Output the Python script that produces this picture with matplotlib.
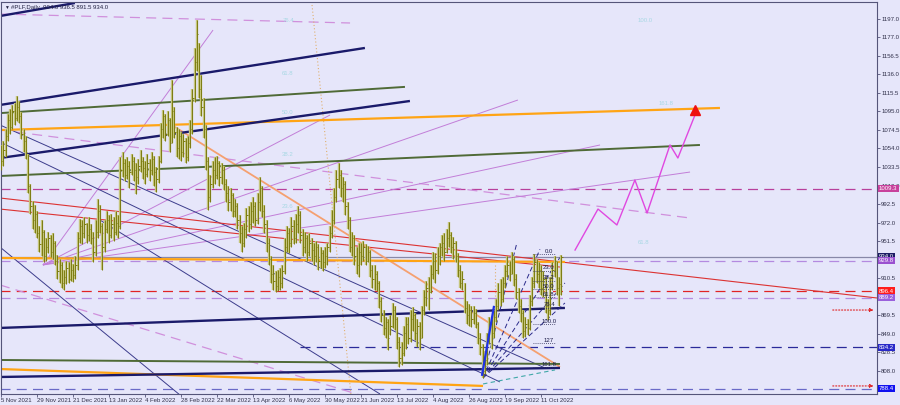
import matplotlib
matplotlib.use("Agg")
import matplotlib.pyplot as plt
import numpy as np

plt.rcParams['font.family'] = ['Liberation Sans', 'DejaVu Sans']

# daily bars (index 0 = 5 Nov 2021)
highs = [1058, 1062, 1075, 1092, 1098, 1102, 1104, 1112, 1106, 1094,
         1075, 1068, 1048, 1015, 996, 992, 985, 968, 975, 964,
         955, 962, 958, 960, 952, 936, 932, 928, 920, 930,
         928, 932, 926, 935, 962, 976, 975, 978, 972, 978,
         970, 962, 975, 998, 992, 972, 975, 985, 980, 982,
         978, 985, 980, 1045, 1050, 1042, 1045, 1040, 1048, 1044,
         1038, 1042, 1052, 1045, 1040, 1048, 1042, 1050, 1046, 1034,
         1046, 1082, 1096, 1092, 1095, 1088, 1130, 1100, 1078, 1075,
         1072, 1070, 1066, 1068, 1085, 1120, 1165, 1196, 1170, 1135,
         1110, 1080, 1045, 1025, 1040, 1045, 1046, 1040, 1038, 1035,
         1020, 1012, 1010, 1005, 998, 994, 980, 968, 972, 988,
         990, 995, 1000, 995, 1005, 1022, 1012, 992, 975, 955,
         935, 925, 918, 920, 922, 925, 955, 968, 966, 978,
         975, 982, 990, 985, 965, 962, 958, 960, 955, 950,
         952, 948, 945, 942, 945, 950, 968, 986, 1010, 1030,
         1038, 1030, 1022, 1018, 995, 978, 962, 958, 945, 950,
         950, 952, 948, 946, 942, 925, 925, 918, 908, 890,
         875, 868, 866, 870, 883, 880, 868, 846, 840, 858,
         868, 868, 875, 879, 872, 866, 862, 880, 898, 908,
         912, 925, 940, 938, 945, 950, 958, 960, 965, 973,
         962, 956, 952, 938, 925, 918, 905, 885, 882, 880,
         880, 876, 862, 850, 838, 830, 850, 868, 866, 875,
         888, 905, 910, 912, 925, 935, 930, 940, 935, 915,
         900, 888, 875, 868, 866, 892, 912, 937, 932, 928,
         925, 918, 912, 888, 912, 928, 935, 930, 912, 936.5]
lows = [1030, 1035, 1045, 1062, 1070, 1075, 1080, 1084, 1082, 1064,
        1050, 1042, 1005, 982, 965, 960, 955, 940, 935, 928,
        930, 938, 934, 932, 925, 910, 905, 900, 897, 904,
        905, 908, 906, 910, 920, 950, 948, 955, 950, 952,
        948, 928, 935, 955, 960, 920, 940, 960, 950, 955,
        952, 958, 955, 965, 1022, 1018, 1020, 1010, 1025, 1018,
        1004, 1015, 1028, 1020, 1015, 1022, 1018, 1025, 1012, 1006,
        1016, 1038, 1065, 1062, 1068, 1050, 1060, 1065, 1045, 1042,
        1040, 1045, 1038, 1040, 1055, 1070, 1105, 1140, 1110, 1090,
        1065, 1030, 986, 995, 1010, 1015, 1020, 1012, 1015, 1008,
        995, 985, 985, 978, 978, 965, 950, 940, 945, 955,
        962, 965, 972, 968, 970, 985, 978, 960, 940, 925,
        905, 898, 895, 896, 898, 900, 915, 940, 938, 945,
        948, 950, 960, 950, 935, 938, 930, 935, 930, 925,
        928, 920, 922, 918, 922, 925, 940, 955, 970, 995,
        1010, 1000, 995, 980, 965, 940, 935, 925, 915, 912,
        925, 930, 925, 928, 912, 900, 898, 896, 878, 862,
        848, 845, 831, 848, 855, 853, 832, 812, 815, 825,
        832, 838, 840, 852, 842, 835, 831, 845, 870, 880,
        875, 894, 910, 905, 915, 925, 935, 930, 938, 945,
        938, 932, 928, 912, 900, 898, 872, 860, 858, 857,
        860, 855, 838, 826, 800, 805, 815, 838, 832, 845,
        862, 875, 880, 884, 900, 912, 908, 915, 902, 888,
        872, 862, 844, 846, 848, 853, 880, 900, 905, 900,
        892, 890, 872, 864, 870, 898, 912, 892, 880, 891.5]
closes = [1040, 1052, 1068, 1085, 1078, 1095, 1088, 1100, 1090, 1070,
          1062, 1050, 1012, 990, 975, 982, 960, 948, 962, 935,
          945, 955, 940, 950, 930, 918, 925, 905, 912, 922,
          910, 920, 914, 925, 955, 968, 960, 970, 958, 965,
          955, 940, 962, 985, 968, 945, 965, 975, 958, 970,
          962, 972, 968, 1030, 1038, 1025, 1035, 1028, 1040, 1030,
          1022, 1035, 1040, 1032, 1026, 1038, 1030, 1042, 1028, 1020,
          1040, 1075, 1090, 1070, 1085, 1060, 1095, 1072, 1055, 1068,
          1050, 1062, 1045, 1060, 1075, 1110, 1150, 1180, 1120, 1100,
          1075, 1040, 1000, 1015, 1030, 1025, 1038, 1022, 1030, 1015,
          1005, 995, 1002, 985, 990, 975, 960, 950, 965, 980,
          970, 985, 990, 975, 995, 1010, 985, 970, 950, 932,
          915, 908, 902, 912, 905, 918, 945, 960, 950, 968,
          955, 970, 980, 958, 945, 955, 940, 950, 942, 935,
          945, 930, 938, 928, 935, 945, 960, 975, 1000, 1020,
          1025, 1010, 1015, 990, 975, 945, 955, 935, 925, 940,
          935, 945, 930, 940, 920, 910, 915, 905, 885, 870,
          855, 862, 845, 858, 875, 865, 840, 822, 828, 850,
          860, 845, 865, 870, 850, 858, 845, 875, 890, 900,
          895, 915, 930, 920, 935, 945, 950, 940, 955, 958,
          945, 950, 935, 920, 905, 910, 878, 870, 875, 865,
          872, 860, 845, 835, 808, 820, 845, 860, 850, 868,
          880, 895, 888, 905, 918, 925, 915, 932, 910, 895,
          880, 872, 852, 860, 855, 885, 905, 928, 915, 920,
          900, 910, 880, 875, 905, 920, 930, 900, 904, 934]

date_ticks = [0, 16, 32, 48, 64, 80, 96, 112, 128, 144, 160, 176, 192, 208, 224, 240]
date_labels = ['5 Nov 2021', '29 Nov 2021', '21 Dec 2021', '13 Jan 2022', '4 Feb 2022',
               '28 Feb 2022', '22 Mar 2022', '13 Apr 2022', '6 May 2022', '30 May 2022',
               '21 Jun 2022', '13 Jul 2022', '4 Aug 2022', '26 Aug 2022', '19 Sep 2022',
               '11 Oct 2022']
price_ticks = [1197.0, 1177.0, 1156.5, 1136.0, 1115.5, 1095.0, 1074.5, 1054.0, 1033.5,
               1013.0, 992.5, 972.0, 951.5, 931.0, 910.5, 890.0, 869.5, 849.0, 828.5, 808.0]
# tick labels fully covered by the level boxes
hidden_ticks = [931.0, 890.0]

# trend lines: (bar, price) anchors
navy_thick = [[(-0.5, 1200.3), (32.8, 1214.7)], [(-0.5, 1102), (161.7, 1165)],
              [(-0.5, 1043.4), (181.7, 1106.4)]]
olive_lines = [[(-0.5, 1093), (179.5, 1122)], [(-0.5, 1023.5), (310.6, 1057.8)],
               [(-0.5, 820.2), (248.4, 815.8)]]
orange_lines = [[(-0.5, 1074.3), (319.5, 1098.7)], [(-0.5, 932.9), (250.6, 928.5)],
                [(-0.5, 810.2), (214.2, 791.5)]]
navy_low = [[(-0.5, 855.6), (250.6, 877.7)], [(-0.5, 801.4), (248.4, 811.4)]]
navy_thin = [[(-0.5, 1079.9), (241.7, 811.4)], [(-0.5, 1061.1), (221.7, 795.9)],
             [(-0.5, 945), (79.5, 781.5)], [(43.9, 974.9), (168.4, 782.6)]]
red_lines = [[(-0.5, 999.2), (389.3, 888.7)], [(-0.5, 987), (248.4, 922.9)]]
salmon_line = [(75.1, 1081), (248.4, 812.5)]
fan_origin = (18.6, 925.2)
fan_ends = [(94.2, 1184.8), (146.2, 1090.9), (229.7, 1107.5), (266.2, 1057.8), (306.2, 1027.9)]
violet_dashed = [[(-0.5, 1074.3), (306.2, 977.1)], [(-0.5, 1202.5), (155.1, 1192.6)],
                 [(-0.5, 903.1), (159.5, 781.5)]]
tan_dotted = [[(138.2, 1212.5), (155.5, 781.5)], [(219.5, 925.2), (219.5, 875.4)]]
blue_impulse = [(213.7, 802.6), (219.1, 880.0)]
pitch_origin = (214.2, 800.3)
pitch_ends = [(229.3, 950.2), (239.5, 942.5), (248.4, 933.6), (250.6, 905.3), (250.6, 883.2)]
teal_line = [(214.2, 793.7), (246.2, 809.2)]
path_bars = [255.1, 265.3, 273.7, 281.7, 287.1, 297.3, 300.8, 308.4]
path_prices = [941.7, 987.0, 969.4, 1019.1, 982.6, 1057.8, 1043.4, 1090.9]
target = (308.4, 1096.4)

fib_hi, fib_lo = 937.3, 859.9
fib_levels = [0.0, 23.6, 38.2, 50.0, 61.8, 76.4, 100.0, 127, 161.8]
fib_text = ['0.0', '23.6', '38.2', '50.0', '61.8', '76.4', '100.0', '127', '161.8']
pale_labels = [(127.5, 1195.0, '76.4'), (127.5, 1137.0, '61.8'), (127.5, 1093.5, '50.0'),
               (127.5, 1047.0, '38.2'), (127.5, 990.0, '23.6'), (286.2, 1195.0, '100.0'),
               (295.5, 1104.0, '161.8'), (285.5, 950.0, '61.8')]

# horizontal levels: price, colour, style, start bar
levels = [(1009.3, '#b8409c', (0, (8, 5)), -0.5), (934.0, '#8888a8', '-', -0.5),
          (929.8, '#b48ae0', (0, (8, 5)), -0.5), (896.4, '#e02424', (0, (8, 5)), -0.5),
          (889.2, '#b48ae0', (0, (8, 5)), -0.5), (834.2, '#2a2a9a', (0, (8, 5)), 133),
          (788.4, '#6a6ac8', (0, (8, 5)), -0.5)]
boxes = [(1009.3, '#c8409c'), (934.0, '#1c1c64'), (929.8, '#9a50d0'), (896.4, '#ff1c1c'),
         (889.2, '#9a60dc'), (834.2, '#2828c8'), (788.4, '#1010f0')]
arrows = [(875.4, 368.4), (791.5, 368.4)]

bg = '#e6e6fa'
fs = 4.3
fig = plt.figure(figsize=(9, 4.05), dpi=100, facecolor=bg)
ax = fig.add_axes([1 / 900, 11 / 405, 876 / 900, 392 / 405])
ax.set_facecolor(bg)
ax.set_xlim(-0.04, 389.3)
ax.set_ylim(782.6, 1215.8)


def seg(p, **kw):
    ax.plot([p[0][0], p[1][0]], [p[0][1], p[1][1]], solid_capstyle='butt', **kw)


for lv, c, ls, x0 in levels:
    ax.plot([x0, 389.3], [lv, lv], color=c, lw=0.9, ls=ls, zorder=1)

for p in violet_dashed:
    seg(p, color='#d090dc', lw=0.9, ls=(0, (8, 5)), zorder=1)
for e in fan_ends:
    seg([fan_origin, e], color='#c27ed8', lw=0.7, zorder=1)
for p in navy_thin:
    seg(p, color='#3c3c8c', lw=0.7, zorder=1)
for p in red_lines:
    seg(p, color='#dc3232', lw=0.8, zorder=1)
seg(salmon_line, color='#f5a070', lw=1.3, zorder=1)
for p in tan_dotted:
    seg(p, color='#e0b070', lw=0.8, ls=(0, (1, 2)), zorder=1)
for p in olive_lines:
    seg(p, color='#4f6a36', lw=1.4, zorder=2)
for p in orange_lines:
    seg(p, color='#ffa414', lw=1.6, zorder=2)
for p in navy_thick:
    seg(p, color='#1a1a6a', lw=1.7, zorder=2)
for p in navy_low:
    seg(p, color='#1a1a6a', lw=1.7, zorder=2)
for e in pitch_ends:
    seg([pitch_origin, e], color='#2a2a8a', lw=0.7, ls=(0, (5, 3)), zorder=2)
seg(teal_line, color='#40a8a8', lw=0.8, ls=(0, (4, 3)), zorder=2)

# price bars
idx = np.arange(len(closes))
ax.vlines(idx, lows, highs, color='#c4c47a', lw=1.7, zorder=3)
ax.vlines(idx, lows, highs, color='#7c7c12', lw=0.7, zorder=3)
ax.hlines(closes, idx, idx + 0.6, color='#7c7c12', lw=0.7, zorder=3)

seg(blue_impulse, color='#1e32e6', lw=1.6, zorder=4)

# projected path
ax.plot(path_bars, path_prices, color='#e048e0', lw=1.0, zorder=4)
ax.plot([target[0]], [target[1]], marker='^', color='#ee1010', ms=7, zorder=5)

# fibonacci labels
for lvl, t in zip(fib_levels, fib_text):
    pr = fib_hi - (fib_hi - fib_lo) * lvl / 100
    ax.plot([236.5, 246], [pr, pr], color='#30305a', lw=0.6, ls=(0, (1, 1.5)), zorder=4)
    ax.text(243.5, pr + 0.5, t, fontsize=fs, color='#1c1c48', ha='center', va='bottom', zorder=5)
for bx, py, t in pale_labels:
    ax.text(bx, py, t, fontsize=fs, color='#a8d8e4', ha='center', va='center', zorder=1)

for py, x0 in arrows:
    ax.annotate('', xy=(389, py), xytext=(x0, py),
                arrowprops=dict(arrowstyle='-|>', color='#e02020', lw=0.8, ls=':',
                                mutation_scale=5), zorder=4)

# axes styling
for s in ax.spines.values():
    s.set_color('#55557a')
    s.set_linewidth(0.8)
ax.yaxis.tick_right()
ax.set_yticks(price_ticks)
ax.set_yticklabels(['' if v in hidden_ticks else '%.1f' % v for v in price_ticks])
ax.set_xticks(date_ticks)
ax.set_xticklabels(date_labels, ha='left')
ax.tick_params(axis='both', labelsize=fs, labelcolor='#30304a', color='#55557a',
               length=2, width=0.6, pad=1)

for pr, c in boxes:
    ax.text(1.0022, pr, '%.1f' % pr, transform=ax.get_yaxis_transform(), fontsize=fs,
            color='white', ha='left', va='center', zorder=10, clip_on=False,
            bbox=dict(boxstyle='square,pad=0.18', fc=c, ec='none'))

fig.text(4 / 900, 1 - 7 / 405, '\u25bc', fontsize=3.5, color='#202040', va='center')
fig.text(11 / 900, 1 - 7 / 405, '#PLF,Daily  904.0 936.5 891.5 934.0', fontsize=fs,
         color='#202040', va='center')

fig.savefig('out.png', dpi=100, facecolor=bg)
